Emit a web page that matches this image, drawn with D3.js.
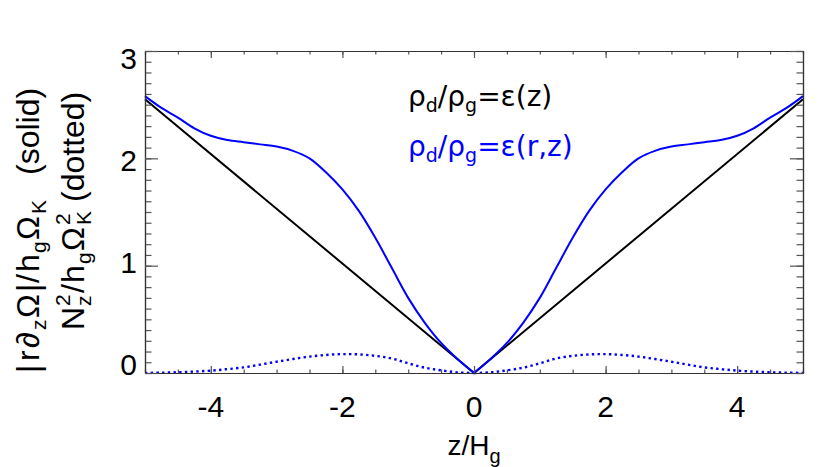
<!DOCTYPE html>
<html>
<head>
<meta charset="utf-8">
<script src="https://cdn.jsdelivr.net/npm/d3@7"></script>
<style>
  body { margin: 0; background: #fff; }
  text { font-family: "Liberation Sans", Arial, sans-serif; fill: #000; }
</style>
</head>
<body>
<svg id="chart" width="830" height="467"></svg>
<script>
// values
const zGrid = [-5, -4.75, -4.5, -4.25, -4, -3.75, -3.5, -3.25, -3, -2.75, -2.5, -2.25, -2, -1.75, -1.5, -1.25, -1, -0.75, -0.5, -0.25,
  0, 0.25, 0.5, 0.75, 1, 1.25, 1.5, 1.75, 2, 2.25, 2.5, 2.75, 3, 3.25, 3.5, 3.75, 4, 4.25, 4.5, 4.75, 5];
const shearRZ = [2.58, 2.47, 2.38, 2.28, 2.21, 2.17, 2.15, 2.13, 2.11, 2.07, 2.00, 1.87, 1.71, 1.51, 1.26, 0.98, 0.70, 0.47, 0.28, 0.13,
  0, 0.13, 0.28, 0.47, 0.70, 0.98, 1.26, 1.51, 1.71, 1.87, 2.00, 2.07, 2.11, 2.13, 2.15, 2.17, 2.21, 2.28, 2.38, 2.47, 2.58];
const buoyRZ = [0.001, 0.003, 0.007, 0.013, 0.022, 0.036, 0.052, 0.078, 0.105, 0.13, 0.153, 0.168, 0.176, 0.173, 0.16, 0.135, 0.09, 0.05, 0.025, 0.006,
  0, 0.006, 0.025, 0.05, 0.09, 0.135, 0.16, 0.173, 0.176, 0.168, 0.153, 0.13, 0.105, 0.078, 0.052, 0.036, 0.022, 0.013, 0.007, 0.003, 0.001];
const zLine = [-5, 0, 5];
const shearZ = [2.55, 0, 2.55];
const xTicks = [-4, -2, 0, 2, 4];
const yTicks = [0, 1, 2, 3];

const margin = {top: 51, right: 27, bottom: 94, left: 145};
const svg = d3.select('#chart');
const W = 830, H = 467;
const width = W - margin.left - margin.right;
const height = H - margin.top - margin.bottom;

const x = d3.scaleLinear().domain([-5, 5]).range([0, width]);
const y = d3.scaleLinear().domain([0, 3]).range([height, 0]);
// IDL squeezes the y labels a little
const yLab = d3.scaleLinear().domain([0, 3]).range([height + 2, 18]);

const chart = svg.append('g').attr('transform', 'translate(' + margin.left + ',' + margin.top + ')');

function toPts(xs, ys) { return xs.map((v, i) => ({z: v, v: ys[i]})); }
function halves(pts) {
  return [pts.filter(d => d.z <= 0), pts.filter(d => d.z >= 0)];
}
const smooth = d3.line().x(d => x(d.z)).y(d => y(d.v)).curve(d3.curveCatmullRom.alpha(0.5));
const straight = d3.line().x(d => x(d.z)).y(d => y(d.v));

// curves
chart.append('path').attr('d', straight(toPts(zLine, shearZ)))
  .attr('fill', 'none').attr('stroke', '#000').attr('stroke-width', 2);
halves(toPts(zGrid, shearRZ)).forEach(h => {
  chart.append('path').attr('d', smooth(h))
    .attr('fill', 'none').attr('stroke', '#0000ff').attr('stroke-width', 2);
});
halves(toPts(zGrid, buoyRZ)).forEach(h => {
  chart.append('path').attr('d', smooth(h))
    .attr('fill', 'none').attr('stroke', '#0000ff').attr('stroke-width', 2.4)
    .attr('stroke-dasharray', '2.4,3.3');
});

// axes box with IDL style ticks
function styleAxis(g) {
  g.select('.domain').attr('stroke', '#333').attr('stroke-width', 1.2);
  g.selectAll('.tick line').attr('stroke', '#555').attr('stroke-width', 1.2);
  g.selectAll('.tick text').remove();
}
const xMinor = d3.range(-5, 5.01, 0.5);
const yMinor = d3.range(0, 3.01, 0.1);

chart.append('g').attr('transform', 'translate(0,' + height + ')')
  .call(d3.axisTop(x).tickValues(xMinor).tickSize(3.5).tickSizeOuter(0)).call(styleAxis);
chart.append('g').attr('transform', 'translate(0,' + height + ')')
  .call(d3.axisTop(x).tickValues(xTicks).tickSize(7).tickSizeOuter(0)).call(styleAxis);
chart.append('g')
  .call(d3.axisBottom(x).tickValues(xMinor).tickSize(3.5).tickSizeOuter(0)).call(styleAxis);
chart.append('g')
  .call(d3.axisBottom(x).tickValues(xTicks).tickSize(7).tickSizeOuter(0)).call(styleAxis);
chart.append('g')
  .call(d3.axisRight(y).tickValues(yMinor).tickSize(6.5).tickSizeOuter(0)).call(styleAxis);
chart.append('g')
  .call(d3.axisRight(y).tickValues(yTicks).tickSize(13).tickSizeOuter(0)).call(styleAxis);
chart.append('g').attr('transform', 'translate(' + width + ',0)')
  .call(d3.axisLeft(y).tickValues(yMinor).tickSize(6.5).tickSizeOuter(0)).call(styleAxis);
chart.append('g').attr('transform', 'translate(' + width + ',0)')
  .call(d3.axisLeft(y).tickValues(yTicks).tickSize(13).tickSizeOuter(0)).call(styleAxis);

// tick labels
chart.selectAll('.xl').data(xTicks).enter().append('text')
  .attr('x', d => x(d)).attr('y', height + 44)
  .attr('text-anchor', 'middle').attr('font-size', 30)
  .text(d => d);
chart.selectAll('.yl').data(yTicks).enter().append('text')
  .attr('x', -8).attr('y', d => yLab(d))
  .attr('text-anchor', 'end').attr('font-size', 30)
  .text(d => d);

// x title
const xt = chart.append('text').attr('x', x(0)).attr('y', height + 82)
  .attr('text-anchor', 'middle').attr('font-size', 28);
xt.append('tspan').text('z/H');
xt.append('tspan').attr('font-size', 20).attr('dy', 8).text('g');

// y title: place each formatted piece along the line
// [text, offset along the line, shift (0 base, 1 sub, -1 sup)]
const title1 = [['|', 0, 0], ['r', 12, 0], ['\u2202', 25, 0], ['z', 43, 1], ['\u03A9', 55, 0], ['|', 81, 0],
  ['/', 90, 0], ['h', 101, 0], ['g', 120, 1], ['\u03A9', 133, 0], ['K', 159, 1], ['(solid)', 198, 0]];
const title2 = [['N', 0, 0], ['z', 24, 1], ['2', 24, -1], ['/', 37, 0], ['h', 47, 0], ['g', 66, 1],
  ['\u03A9', 79, 0], ['K', 105, 1], ['2', 105, -1], ['(dotted)', 128, 0]];

function rotTitle(tx, ty, pieces) {
  const g = svg.append('g').attr('transform', 'translate(' + tx + ',' + ty + ') rotate(-90)');
  g.selectAll('text').data(pieces).enter().append('text')
    .attr('x', d => d[1])
    .attr('y', d => d[2] === 1 ? 7 : (d[2] === -1 ? -14 : 0))
    .attr('font-size', d => d[2] === 0 ? 32 : 21)
    .text(d => d[0]);
}
rotTitle(39, 373, title1);
rotTitle(84, 330, title2);

// legend
function legendRow(yy, color, tail) {
  const t = svg.append('text').attr('x', 408).attr('y', yy)
    .attr('font-size', 28).style('font-family', '"DejaVu Sans", sans-serif').style('fill', color);
  t.append('tspan').text('\u03C1');
  t.append('tspan').attr('font-size', 19).attr('dy', 6).text('d');
  t.append('tspan').attr('dy', -6).text('/\u03C1');
  t.append('tspan').attr('font-size', 19).attr('dy', 6).text('g');
  t.append('tspan').attr('dy', -6).text('=\u03B5' + tail);
}
legendRow(106, '#000', '(z)');
legendRow(156, '#0000ff', '(r,z)');
</script>
</body>
</html>
